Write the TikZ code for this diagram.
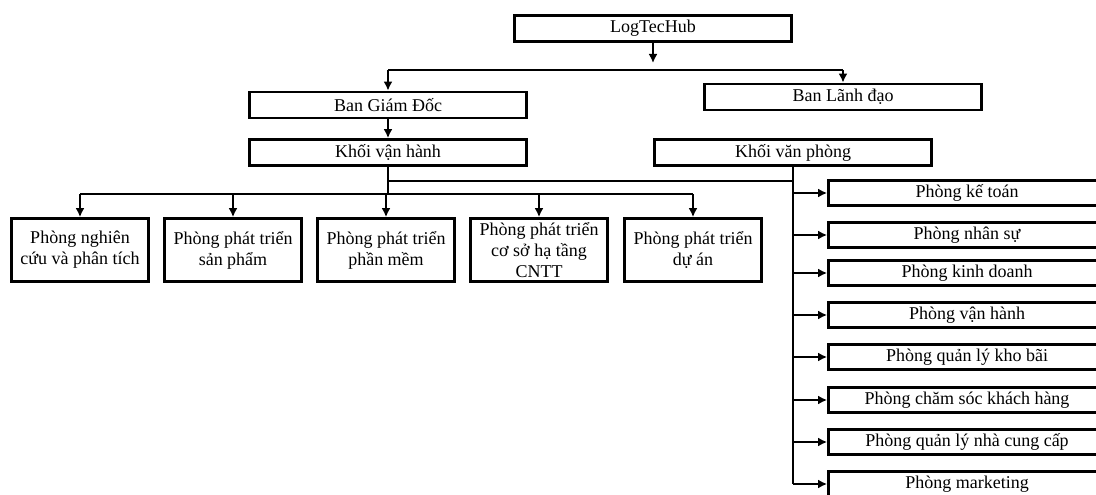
\documentclass[tikz,border=0pt]{standalone}
\usepackage{fontspec}
\setmainfont{Liberation Serif}
\usetikzlibrary{arrows.meta}
\begin{document}
\begin{tikzpicture}[x=1pt,y=-1pt,
 box/.style={draw,line width=2.8pt,inner sep=0pt,align=center,font=\fontsize{18}{21}\selectfont,minimum width=277pt,minimum height=26pt},
 sbox/.style={box,minimum width=137pt,minimum height=63pt},
 rbox/.style={box,minimum height=25.4pt},
 conn/.style={line width=2.2pt},
 arr/.style={line width=2.2pt,-{Latex[length=9pt,width=9pt]}}]
\useasboundingbox (0,0) rectangle (1096,495);
\clip (0,0) rectangle (1096,495);
% top levels
\node[box] (log) at (653,28.5) {LogTecHub};
\node[box] (bgd) at (388,105) {Ban Giám Đốc};
\node[box] (bld) at (843,97) {Ban Lãnh đạo};
\node[box] (kvh) at (388,152.5) {Khối vận hành};
\node[box] (kvp) at (793,152.5) {Khối văn phòng};
% bottom row
\node[sbox] (b1) at (80,250) {Phòng nghiên\\cứu và phân tích};
\node[sbox] (b2) at (233,250) {Phòng phát triển\\sản phẩm};
\node[sbox] (b3) at (386,250) {Phòng phát triển\\phần mềm};
\node[sbox] (b4) at (539,250) {Phòng phát triển\\cơ sở hạ tầng\\CNTT};
\node[sbox] (b5) at (693,250) {Phòng phát triển\\dự án};
% right column
\node[rbox] (r1) at (967,193) {Phòng kế toán};
\node[rbox] (r2) at (967,235) {Phòng nhân sự};
\node[rbox] (r3) at (967,273) {Phòng kinh doanh};
\node[rbox] (r4) at (967,315) {Phòng vận hành};
\node[rbox] (r5) at (967,357) {Phòng quản lý kho bãi};
\node[rbox] (r6) at (967,400) {Phòng chăm sóc khách hàng};
\node[rbox] (r7) at (967,442) {Phòng quản lý nhà cung cấp};
\node[rbox] (r8) at (967,484) {Phòng marketing};
% connectors top
\draw[arr] (log.south) -- (log.south |- 0,63);
\draw[conn] (bgd.north |- 0,70) -- (bld.north |- 0,70);
\draw[arr] (bgd.north |- 0,70) -- (bgd.north);
\draw[arr] (bld.north |- 0,70) -- (bld.north);
\draw[arr] (bgd) -- (kvh);
% operations block
\draw[conn] (kvh.south) -- (kvh.south |- 0,194);
\draw[conn] (kvh.south |- 0,181) -- (kvp.south |- 0,181);
\draw[conn] (b1.north |- 0,194) -- (b5.north |- 0,194);
\foreach \b in {b1,b2,b3,b4,b5}
  \draw[arr] (\b.north |- 0,194) -- (\b.north);
% office block
\draw[conn] (kvp.south) -- (kvp.south |- r8.west);
\foreach \r in {r1,r2,r3,r4,r5,r6,r7,r8}
  \draw[arr] (kvp.south |- \r.west) -- (\r.west);
\end{tikzpicture}
\end{document}
